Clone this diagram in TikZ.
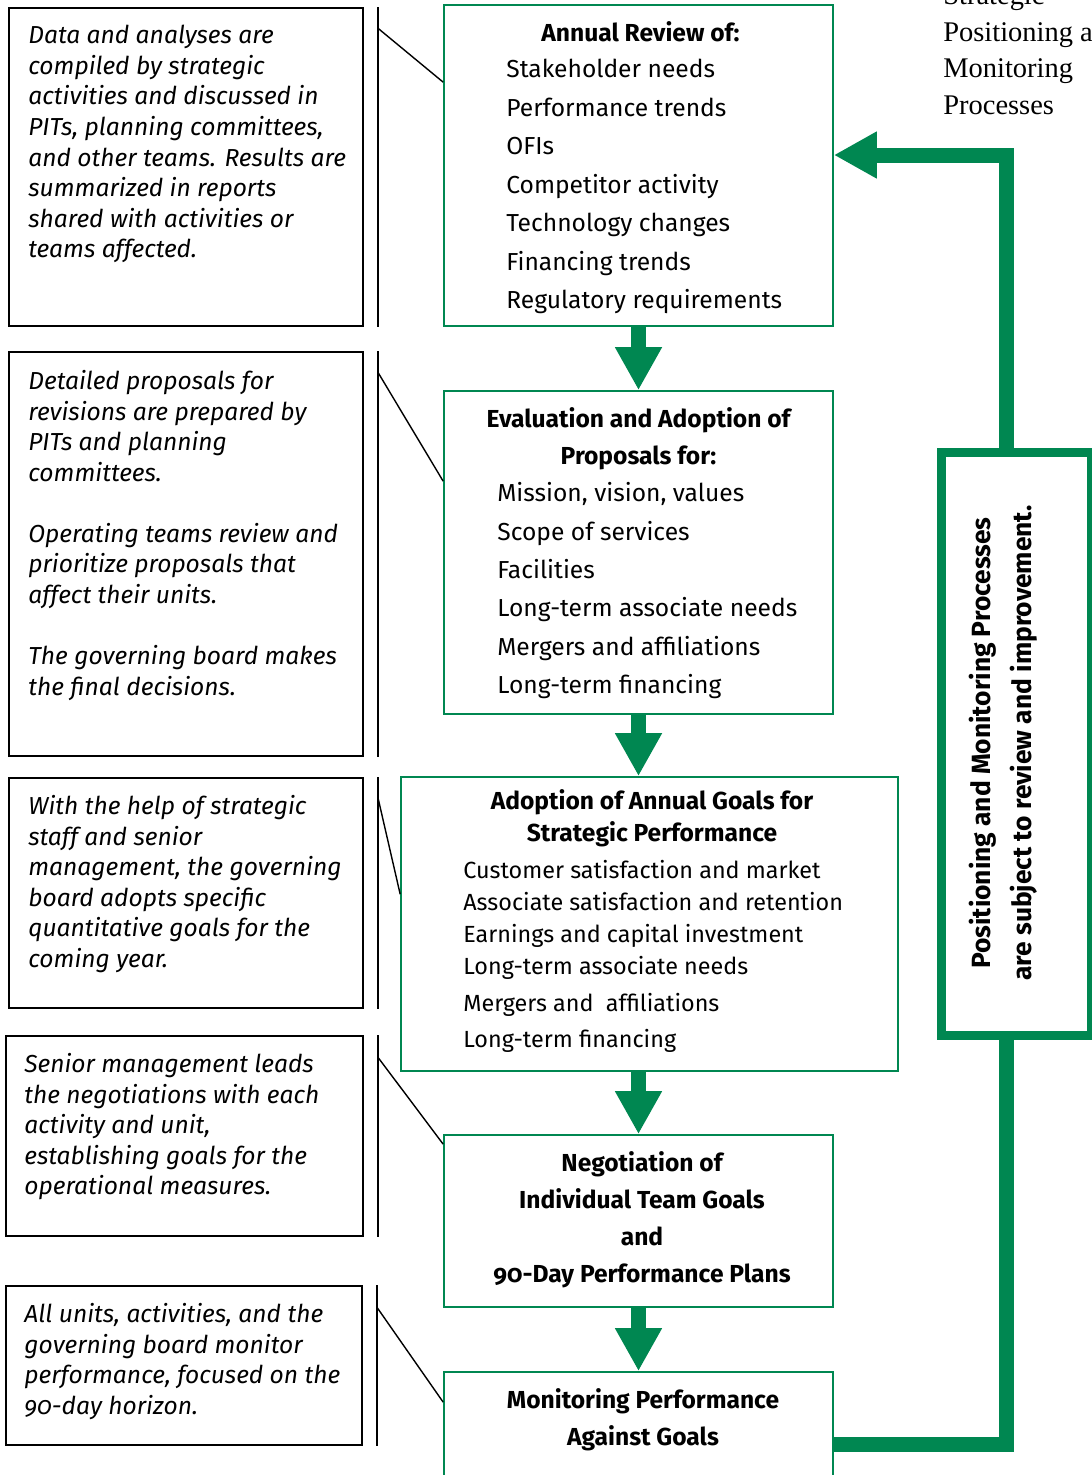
\documentclass[tikz,border=0pt]{standalone}
\usepackage{fontspec}
\setmainfont{Fira Sans}[Numbers=OldStyle]
\newfontfamily\serifface{Liberation Serif}
\usepackage{tikz}
\usetikzlibrary{arrows.meta,positioning,calc}
\definecolor{kgreen}{RGB}{0,135,81}
\tikzstyle{block1} = [rectangle, draw, line width=1pt, inner sep=0pt]
\tikzstyle{block2} = [rectangle, draw=kgreen, line width=1pt, inner sep=0pt]
\tikzstyle{block3} = [rectangle, draw=kgreen, line width=0.18cm, fill=white, inner sep=0pt]
\tikzstyle{note} = [anchor=north west, inner sep=0pt, align=left, font=\fontsize{14}{17.4}\selectfont\itshape]
\tikzstyle{item} = [anchor=north west, inner sep=0pt, align=left, font=\fontsize{14}{21.9}\selectfont]
\tikzstyle{head} = [anchor=north, inner sep=0pt, align=center, font=\fontsize{14}{21}\selectfont\bfseries]
\tikzstyle{bigarrow} = [line width=0.3cm, draw=kgreen, -{Triangle[length=0.86cm,width=0.88cm]}, kgreen]
\tikzstyle{link} = [line width=0.8pt]

\begin{document}
\begin{tikzpicture}[x=0.02cm, y=-0.02cm]
        \useasboundingbox (0,0) rectangle (1092,1475);
        \clip (0,0) rectangle (1092,1475);

        % notes on the left
        \node[block1, minimum width=7.08cm, minimum height=6.36cm] (a1) at (186,167) {};
        \node[block1, minimum width=7.08cm, minimum height=8.08cm] (a2) at (186,554) {};
        \node[block1, minimum width=7.08cm, minimum height=4.6cm] (a3) at (186,893) {};
        \node[block1, minimum width=7.14cm, minimum height=4cm] (a4) at (184.5,1136) {};
        \node[block1, minimum width=7.12cm, minimum height=3.18cm] (a5) at (184,1365.5) {};

        \node[note] (t1) at (28,25) {Data and analyses are\\compiled by strategic\\activities and discussed in\\PITs, planning committees,\\and other teams. Results are\\summarized in reports\\shared with activities or\\teams affected.};
        \node[note] (t2) at (28,370) {Detailed proposals for\\revisions are prepared by\\PITs and planning\\committees.\\[17.4pt]Operating teams review and\\prioritize proposals that\\affect their units.\\[17.4pt]The governing board makes\\the final decisions.};
        \node[note] (t3) at (28,795) {With the help of strategic\\staff and senior\\management, the governing\\board adopts specific\\quantitative goals for the\\coming year.};
        \node[note] (t4) at (24,1053) {Senior management leads\\the negotiations with each\\activity and unit,\\establishing goals for the\\operational measures.};
        \node[note] (t5) at (24,1303) {All units, activities, and the\\governing board monitor\\performance, focused on the\\90-day horizon.};

        % stages
        \node[block2, minimum width=7.78cm, minimum height=6.42cm] (b1) at (638.5,165.5) {};
        \node[block2, minimum width=7.78cm, minimum height=6.46cm] (b2) at (638.5,552.5) {};
        \node[block2, minimum width=9.94cm, minimum height=5.88cm] (b3) at (649.5,924) {};
        \node[block2, minimum width=7.78cm, minimum height=3.44cm] (b4) at (638.5,1221) {};
        \node[block2, minimum width=7.78cm, minimum height=2.56cm] (b5) at (638.5,1436) {};

        \node[head] (h1) at (640.5,21) {Annual Review of:};
        \node[item] (l1) at (506,59) {Stakeholder needs\\Performance trends\\OFIs\\Competitor activity\\Technology changes\\Financing trends\\Regulatory requirements};
        \node[head] (h2) at (638.5,407) {Evaluation and Adoption of\\Proposals for:};
        \node[item] (l2) at (497,482) {Mission, vision, values\\Scope of services\\Facilities\\Long-term associate needs\\Mergers and affiliations\\Long-term financing};
        \node[head, font=\fontsize{14}{18.2}\selectfont\bfseries] (h3) at (652,789) {Adoption of Annual Goals for\\Strategic Performance};
        \node[item, font=\fontsize{13.3}{18.2}\selectfont] (l3) at (463,860) {Customer satisfaction and market\\Associate satisfaction and retention\\Earnings and capital investment\\Long-term associate needs\\[2.8pt]Mergers and\ \ affiliations\\[2.3pt]Long-term financing};
        \node[head] (h4) at (642,1151) {Negotiation of\\Individual Team Goals\\and\\90-Day Performance Plans};
        \node[head] (h5) at (643,1388) {Monitoring Performance\\Against Goals};

        % brackets
        \foreach \i/\d/\e in {1/21/78, 2/21/91, 3/20/118, 4/22/10, 5/22/31} {
            \draw[link] ([xshift=0.28cm]a\i.north east) -- ([xshift=0.28cm]a\i.south east);
            \draw[link] ($(a\i.north east)+(14,\d)$) -- ($(b\i.north west)+(0,\e)$);
        }

        % block arrows
        \draw[bigarrow] (b1.south) -- (b2.north);
        \draw[bigarrow] (b2.south) -- (b2.south |- b3.north);
        \draw[bigarrow] (b4.north |- b3.south) -- (b4.north);
        \draw[bigarrow] (b4.south) -- (b5.north);

        % feedback loop
        \coordinate (p1) at (1006,1444);
        \coordinate (p2) at (1006,155);
        \draw[bigarrow] (b5.east |- p1) -- (p1) -- (p2) -- (b1.east |- p2);

        \node[block3, minimum width=3.02cm, minimum height=11.68cm] (c) at (1016.5,744) {};
        \node[rotate=90, align=center, font=\fontsize{15}{23.2}\selectfont\bfseries] (z) at (1003,743) {Positioning and Monitoring Processes\\are subject to review and improvement.};

        \node[anchor=north west, inner sep=0pt, align=left, font=\fontsize{16.2}{21}\serifface] (z1) at (943,-15) {Strategic\\Positioning and\\Monitoring\\Processes};
\end{tikzpicture}
\end{document}
